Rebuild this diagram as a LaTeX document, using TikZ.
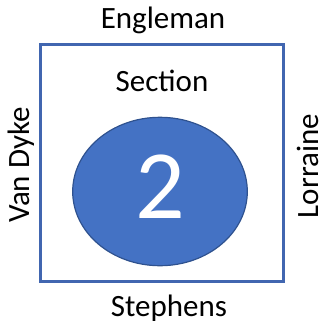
\documentclass[tikz,border=0pt]{standalone}
\usepackage{fontspec}
\setmainfont{Carlito}
\usetikzlibrary{shapes.geometric}
\definecolor{frameblue}{HTML}{4166B0}
\definecolor{fillblue}{HTML}{4472C4}
\definecolor{edgeblue}{HTML}{2F528F}
\tikzset{
  lbl/.style={font=\fontsize{31}{36}\selectfont, inner sep=0pt, anchor=base},
  vlbl/.style={lbl, rotate=90},
}
\begin{document}
\begin{tikzpicture}[x=1pt,y=-1pt]
\useasboundingbox (0,0) rectangle (322,325);
\node[draw=frameblue, line width=2.6pt, minimum width=243pt, minimum height=237pt, inner sep=0pt] (frame) at (161.8,162.7) {};
\node[ellipse, draw=edgeblue, line width=1.2pt, fill=fillblue, minimum width=174.6pt, minimum height=148.4pt, inner sep=0pt] (oval) at (160,191.5) {};
\node[lbl, white, font=\fontsize{98}{100}\selectfont] (num) at (160,218.3) {2};
\node[lbl] (top) at (163,28.3) {Engleman};
\node[lbl] (sec) at (162,91.7) {Section};
\node[lbl] (bot) at (169,316.7) {Stephens};
\node[vlbl] (left) at (29.3,165) {Van Dyke};
\node[vlbl] (right) at (319,166) {Lorraine};
\end{tikzpicture}
\end{document}
